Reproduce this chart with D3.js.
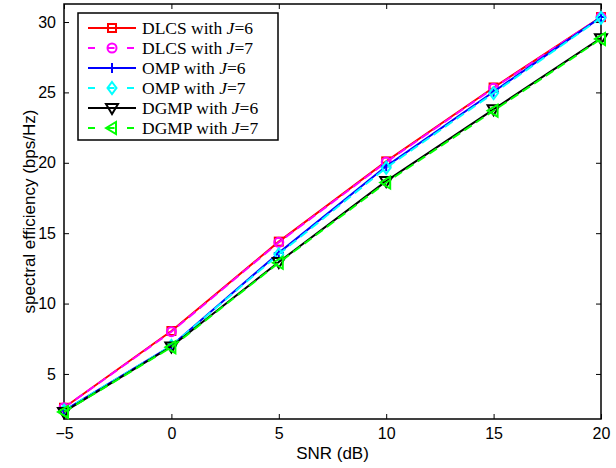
<!DOCTYPE html>
<html>
<head>
<meta charset="utf-8">
<script src="https://cdn.jsdelivr.net/npm/d3@7"></script>
<style>
  body { margin: 0; background: #fff; }
  svg { display: block; }
  .tick text { font-family: Arial, "Liberation Sans", sans-serif; font-size: 16px; fill: #000; }
</style>
</head>
<body>
<div id="chart"></div>
<script>
// data
var snr = [-5, 0, 5, 10, 15, 20];
var dlcs6 = [2.6, 8.05, 14.4, 20.1, 25.35, 30.35];
var dlcs7 = [2.6, 8.0, 14.35, 20.05, 25.3, 30.35];
var omp6 = [2.4, 7.0, 13.6, 19.75, 25.05, 30.35];
var omp7 = [2.4, 7.0, 13.5, 19.65, 24.95, 30.3];
var dgmp6 = [2.3, 6.95, 12.95, 18.7, 23.8, 28.85];
var dgmp7 = [2.3, 6.9, 12.9, 18.6, 23.7, 28.8];
var xTicks = [-5, 0, 5, 10, 15, 20];
var yTicks = [5, 10, 15, 20, 25, 30];

var series = [
  {name: "DLCS", J: 6, values: dlcs6, color: "#ff0000", dash: null, marker: "square"},
  {name: "DLCS", J: 7, values: dlcs7, color: "#ff00ff", dash: "9,5", marker: "circle"},
  {name: "OMP", J: 6, values: omp6, color: "#0000ff", dash: null, marker: "plus"},
  {name: "OMP", J: 7, values: omp7, color: "#00ffff", dash: "9,5", marker: "diamond"},
  {name: "DGMP", J: 6, values: dgmp6, color: "#000000", dash: null, marker: "tridown"},
  {name: "DGMP", J: 7, values: dgmp7, color: "#00ff00", dash: "9,5", marker: "trileft"}
];

var svgWidth = 616, svgHeight = 468;
var margin = {top: 4, right: 15, bottom: 49, left: 64};
var width = svgWidth - margin.left - margin.right;
var height = svgHeight - margin.top - margin.bottom;

var svg = d3.select("#chart").append("svg")
  .attr("width", svgWidth)
  .attr("height", svgHeight);

var g = svg.append("g")
  .attr("transform", `translate(${margin.left}, ${margin.top})`);

var x = d3.scaleLinear().domain([-5, 20]).range([0, width]);
var y = d3.scaleLinear().domain([1.8, 31.28]).range([height, 0]);

// axes with inward ticks, box on all sides
g.append("g")
  .attr("transform", `translate(0, ${height})`)
  .call(d3.axisBottom(x).tickValues(xTicks).tickSizeInner(-5).tickSizeOuter(0).tickPadding(9)
    .tickFormat(d => d < 0 ? "\u2212" + Math.abs(d) : d));
g.append("g")
  .call(d3.axisLeft(y).tickValues(yTicks).tickSizeInner(-5).tickSizeOuter(0).tickPadding(8));
g.append("g")
  .call(d3.axisTop(x).tickValues(xTicks).tickSizeInner(-5).tickSizeOuter(0).tickFormat(""));
g.append("g")
  .attr("transform", `translate(${width}, 0)`)
  .call(d3.axisRight(y).tickValues(yTicks).tickSizeInner(-5).tickSizeOuter(0).tickFormat(""));
g.selectAll(".domain").remove();
g.selectAll(".tick line").attr("stroke", "#000").attr("stroke-width", 1);
g.append("rect")
  .attr("width", width).attr("height", height)
  .attr("fill", "none").attr("stroke", "#000").attr("stroke-width", 1.5);

// axis labels
svg.append("text")
  .attr("x", margin.left + width / 2)
  .attr("y", 459)
  .attr("text-anchor", "middle")
  .style("font-family", "Arial, 'Liberation Sans', sans-serif")
  .style("font-size", "17px")
  .text("SNR (dB)");

svg.append("text")
  .attr("transform", "rotate(-90)")
  .attr("x", -(margin.top + height / 2))
  .attr("y", 35)
  .attr("text-anchor", "middle")
  .style("font-family", "Arial, 'Liberation Sans', sans-serif")
  .style("font-size", "17px")
  .text("spectral efficiency (bps/Hz)");

function drawMarker(sel, type, color) {
  if (type === "square") {
    sel.append("rect").attr("x", -4).attr("y", -4).attr("width", 8).attr("height", 8)
      .attr("fill", "none").attr("stroke", color).attr("stroke-width", 2);
  } else if (type === "circle") {
    sel.append("circle").attr("r", 4.5)
      .attr("fill", "none").attr("stroke", color).attr("stroke-width", 2);
  } else if (type === "plus") {
    sel.append("path").attr("d", "M-5,0H5M0,-5V5")
      .attr("fill", "none").attr("stroke", color).attr("stroke-width", 2);
  } else if (type === "diamond") {
    sel.append("path").attr("d", "M0,-6L4.5,0L0,6L-4.5,0Z")
      .attr("fill", "none").attr("stroke", color).attr("stroke-width", 2);
  } else if (type === "tridown") {
    sel.append("path").attr("d", "M-6,-4L6,-4L0,6Z")
      .attr("fill", "none").attr("stroke", color).attr("stroke-width", 2);
  } else if (type === "trileft") {
    sel.append("path").attr("d", "M-6,0L4,-6L4,6Z")
      .attr("fill", "none").attr("stroke", color).attr("stroke-width", 2);
  }
}

var line = d3.line()
  .x((d, i) => x(snr[i]))
  .y(d => y(d));

series.forEach(function(s) {
  g.append("path")
    .datum(s.values)
    .attr("d", line)
    .attr("fill", "none")
    .attr("stroke", s.color)
    .attr("stroke-width", 2)
    .attr("stroke-dasharray", s.dash);
  s.values.forEach(function(v, i) {
    var m = g.append("g").attr("transform", `translate(${x(snr[i])}, ${y(v)})`);
    drawMarker(m, s.marker, s.color);
  });
});

// legend
var legend = svg.append("g").attr("transform", "translate(78, 13)");
legend.append("rect")
  .attr("width", 200).attr("height", 127)
  .attr("fill", "#fff").attr("stroke", "#000").attr("stroke-width", 1.5);

series.forEach(function(s, i) {
  var row = legend.append("g").attr("transform", `translate(0, ${15 + i * 20})`);
  row.append("line")
    .attr("x1", 10).attr("x2", 58)
    .attr("stroke", s.color).attr("stroke-width", 2)
    .attr("stroke-dasharray", s.dash ? "7,12.5" : null);
  var m = row.append("g").attr("transform", "translate(34, 0)");
  drawMarker(m, s.marker, s.color);
  var t = row.append("text")
    .attr("x", 64).attr("y", 6)
    .style("font-family", "'Liberation Serif', 'DejaVu Serif', serif")
    .style("font-size", "17.5px");
  t.append("tspan").text(s.name + " with ");
  t.append("tspan").style("font-style", "italic").text("J");
  t.append("tspan").text("=" + s.J);
});
</script>
</body>
</html>
